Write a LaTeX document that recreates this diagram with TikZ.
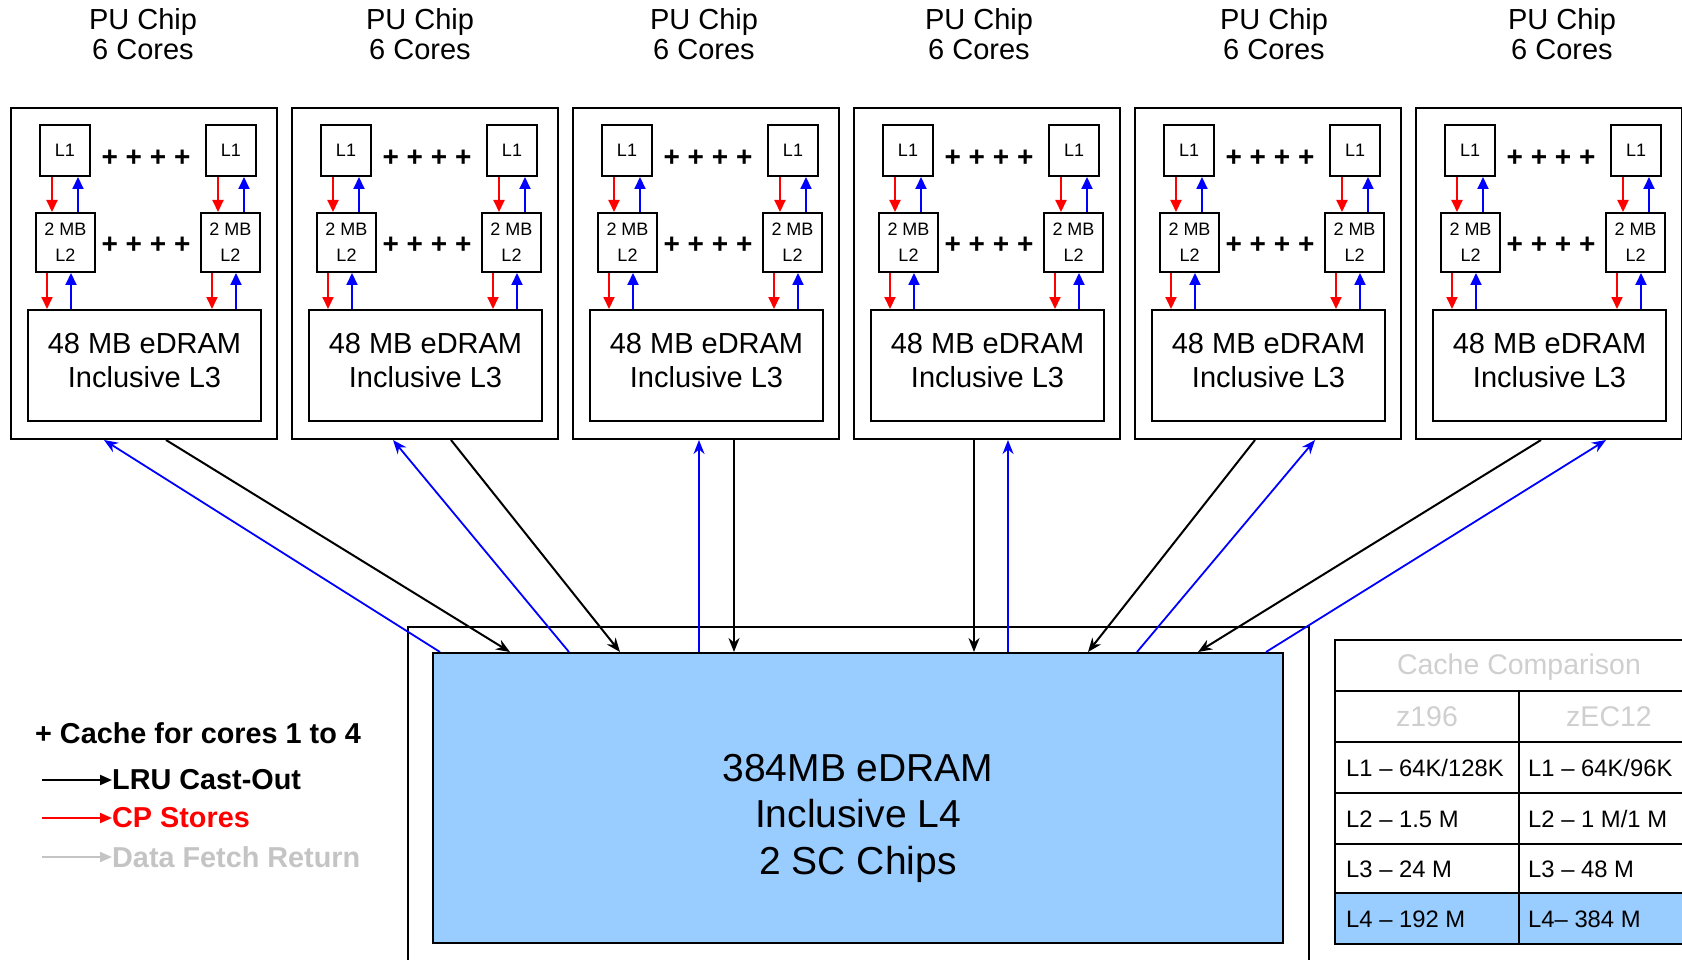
\documentclass[tikz,border=0pt]{standalone}
\usepackage{fontspec}
\setmainfont{Liberation Sans}
\usepackage{tikz}
\usetikzlibrary{arrows.meta,positioning}

\definecolor{lfourblue}{HTML}{99CCFF}
\definecolor{fetchgray}{HTML}{C4C4C4}
\definecolor{headgray}{HTML}{CFCFCF}

\begin{document}
\begin{tikzpicture}[x=1pt,y=-1pt,
  box/.style={draw,line width=2pt,inner sep=0pt,anchor=north west},
  chiptitle/.style={align=center,inner sep=0pt,font=\fontsize{29}{30}\selectfont},
  lone/.style={box,minimum width=50pt,minimum height=51pt,font=\fontsize{18}{20}\selectfont},
  ltwo/.style={box,minimum width=59pt,minimum height=59pt,align=center,font=\fontsize{18}{26}\selectfont},
  lthree/.style={box,minimum width=233pt,minimum height=111pt},
  boxtext/.style={align=center,inner sep=0pt,font=\fontsize{29}{34}\selectfont},
  plusrow/.style={inner sep=0pt,font=\fontsize{28}{30}\selectfont\bfseries},
  redarr/.style={red,line width=2pt,-{Triangle[length=12pt,width=11pt]}},
  bluarr/.style={blue,line width=2pt,-{Triangle[length=12pt,width=11pt]}},
  castout/.style={black,line width=2pt,-{Stealth[length=14pt,width=11pt]}},
  fetch/.style={blue,line width=1.8pt,-{Stealth[length=14pt,width=11pt]}},
  legend/.style={anchor=west,inner sep=0pt,font=\fontsize{28.8}{30}\selectfont\bfseries},
  legarr/.style={line width=2pt,-{Triangle[length=12pt,width=10pt]}},
  cell/.style={anchor=west,inner sep=0pt,font=\fontsize{23.8}{25}\selectfont},
  head/.style={inner sep=0pt,text=headgray,font=\fontsize{28.5}{30}\selectfont}]
\useasboundingbox (0,0) rectangle (1682,960);

% the six PU chips
\foreach \i/\tx in {1/143,2/420,3/704,4/979,5/1274,6/1562}{
  \pgfmathsetmacro{\ox}{10+281*(\i-1)}
  \node[chiptitle] (pu\i) at (\tx,34) {PU Chip\\6 Cores};
  \node[box,minimum width=266pt,minimum height=331pt] (chip\i) at (\ox,107) {};
  \node[lone] (la\i) at (\ox+29,124) {L1};
  \node[lone] (ra\i) at (\ox+195,124) {L1};
  \node[ltwo] (lb\i) at (\ox+25,212) {2 MB\\L2};
  \node[ltwo] (rb\i) at (\ox+190,212) {2 MB\\L2};
  \node[plusrow] (pa\i) at (\ox+136,158) {+ + + +};
  \node[plusrow] (pb\i) at (\ox+136,245) {+ + + +};
  \node[lthree] (lc\i) at (\ox+17,309) {};
  \node[boxtext] (lt\i) at ([yshift=5pt]lc\i.center) {48 MB eDRAM\\Inclusive L3};
  \foreach \sd in {l,r}{
    \draw[redarr] ([xshift=13pt]\sd a\i.south west) -- ([xshift=13pt]\sd a\i.south west |- \sd b\i.north);
    \draw[bluarr] ([xshift=39pt]\sd a\i.south west |- \sd b\i.north) -- ([xshift=39pt]\sd a\i.south west);
    \draw[redarr] ([xshift=12pt]\sd b\i.south west) -- ([xshift=12pt]\sd b\i.south west |- lc\i.north);
    \draw[bluarr] ([xshift=36pt]\sd b\i.south west |- lc\i.north) -- ([xshift=36pt]\sd b\i.south west);
  }
}

% L4
\draw[line width=2pt] (408,965) |- (1309,627) -- (1309,965);
\node[box,fill=lfourblue,minimum width=850pt,minimum height=290pt] (l4) at (432,652) {};
\node[boxtext,font=\fontsize{39}{46.5}\selectfont] (l4t) at ([yshift=-20pt]l4.center)
  {384MB eDRAM\\Inclusive L4\\2 SC Chips};

\foreach \i/\bc/\bl/\kc/\kl in {1/94/8/156/78,2/102/137/160/188,3/127/267/162/302,
  4/155/576/121/542,5/181/705/121/656,6/191/834/126/766}{
  \draw[castout] ([xshift=\kc pt]chip\i.south west) -- ([xshift=\kl pt]l4.north west);
  \draw[fetch] ([xshift=\bl pt]l4.north west) -- ([xshift=\bc pt]chip\i.south west);
}

% legend
\node[legend] (lgplus) at (35,733) {+ Cache for cores 1 to 4};
\coordinate (lgA) at (42,780);
\node[legend] (lru) at (112,780) {LRU Cast-Out};
\draw[legarr] (lgA) -- (lru.west);
\coordinate (lgB) at (42,818);
\node[legend,text=red] (cps) at (112,818) {CP Stores};
\draw[legarr,red] (lgB) -- (cps.west);
\coordinate (lgC) at (42,857);
\node[legend,text=fetchgray] (dfr) at (112,857) {Data Fetch Return};
\draw[legarr,fetchgray] (lgC) -- (dfr.west);

% comparison table
\fill[lfourblue] (1335,893) rectangle (1700,944);
\draw[line width=2pt] (1335,640) rectangle (1700,944);
\foreach \y in {691,742,793,844,893}
  \draw[line width=2pt] (1335,\y) -- (1700,\y);
\draw[line width=2pt] (1519,691) -- (1519,944);
\node[head] (cmp) at (1519,667) {Cache Comparison};
\node[head] (zold) at (1427,717) {z196};
\node[head] (znew) at (1609,717) {zEC12};
\node[cell] (oa) at (1346,768) {L1 – 64K/128K};
\node[cell] (ob) at (1346,819) {L2 – 1.5 M};
\node[cell] (oc) at (1346,869) {L3 – 24 M};
\node[cell] (od) at (1346,919) {L4 – 192 M};
\node[cell] (na) at (1528,768) {L1 – 64K/96K};
\node[cell] (nb) at (1528,819) {L2 – 1 M/1 M};
\node[cell] (nc) at (1528,869) {L3 – 48 M};
\node[cell] (nd) at (1528,919) {L4– 384 M};
\end{tikzpicture}
\end{document}
